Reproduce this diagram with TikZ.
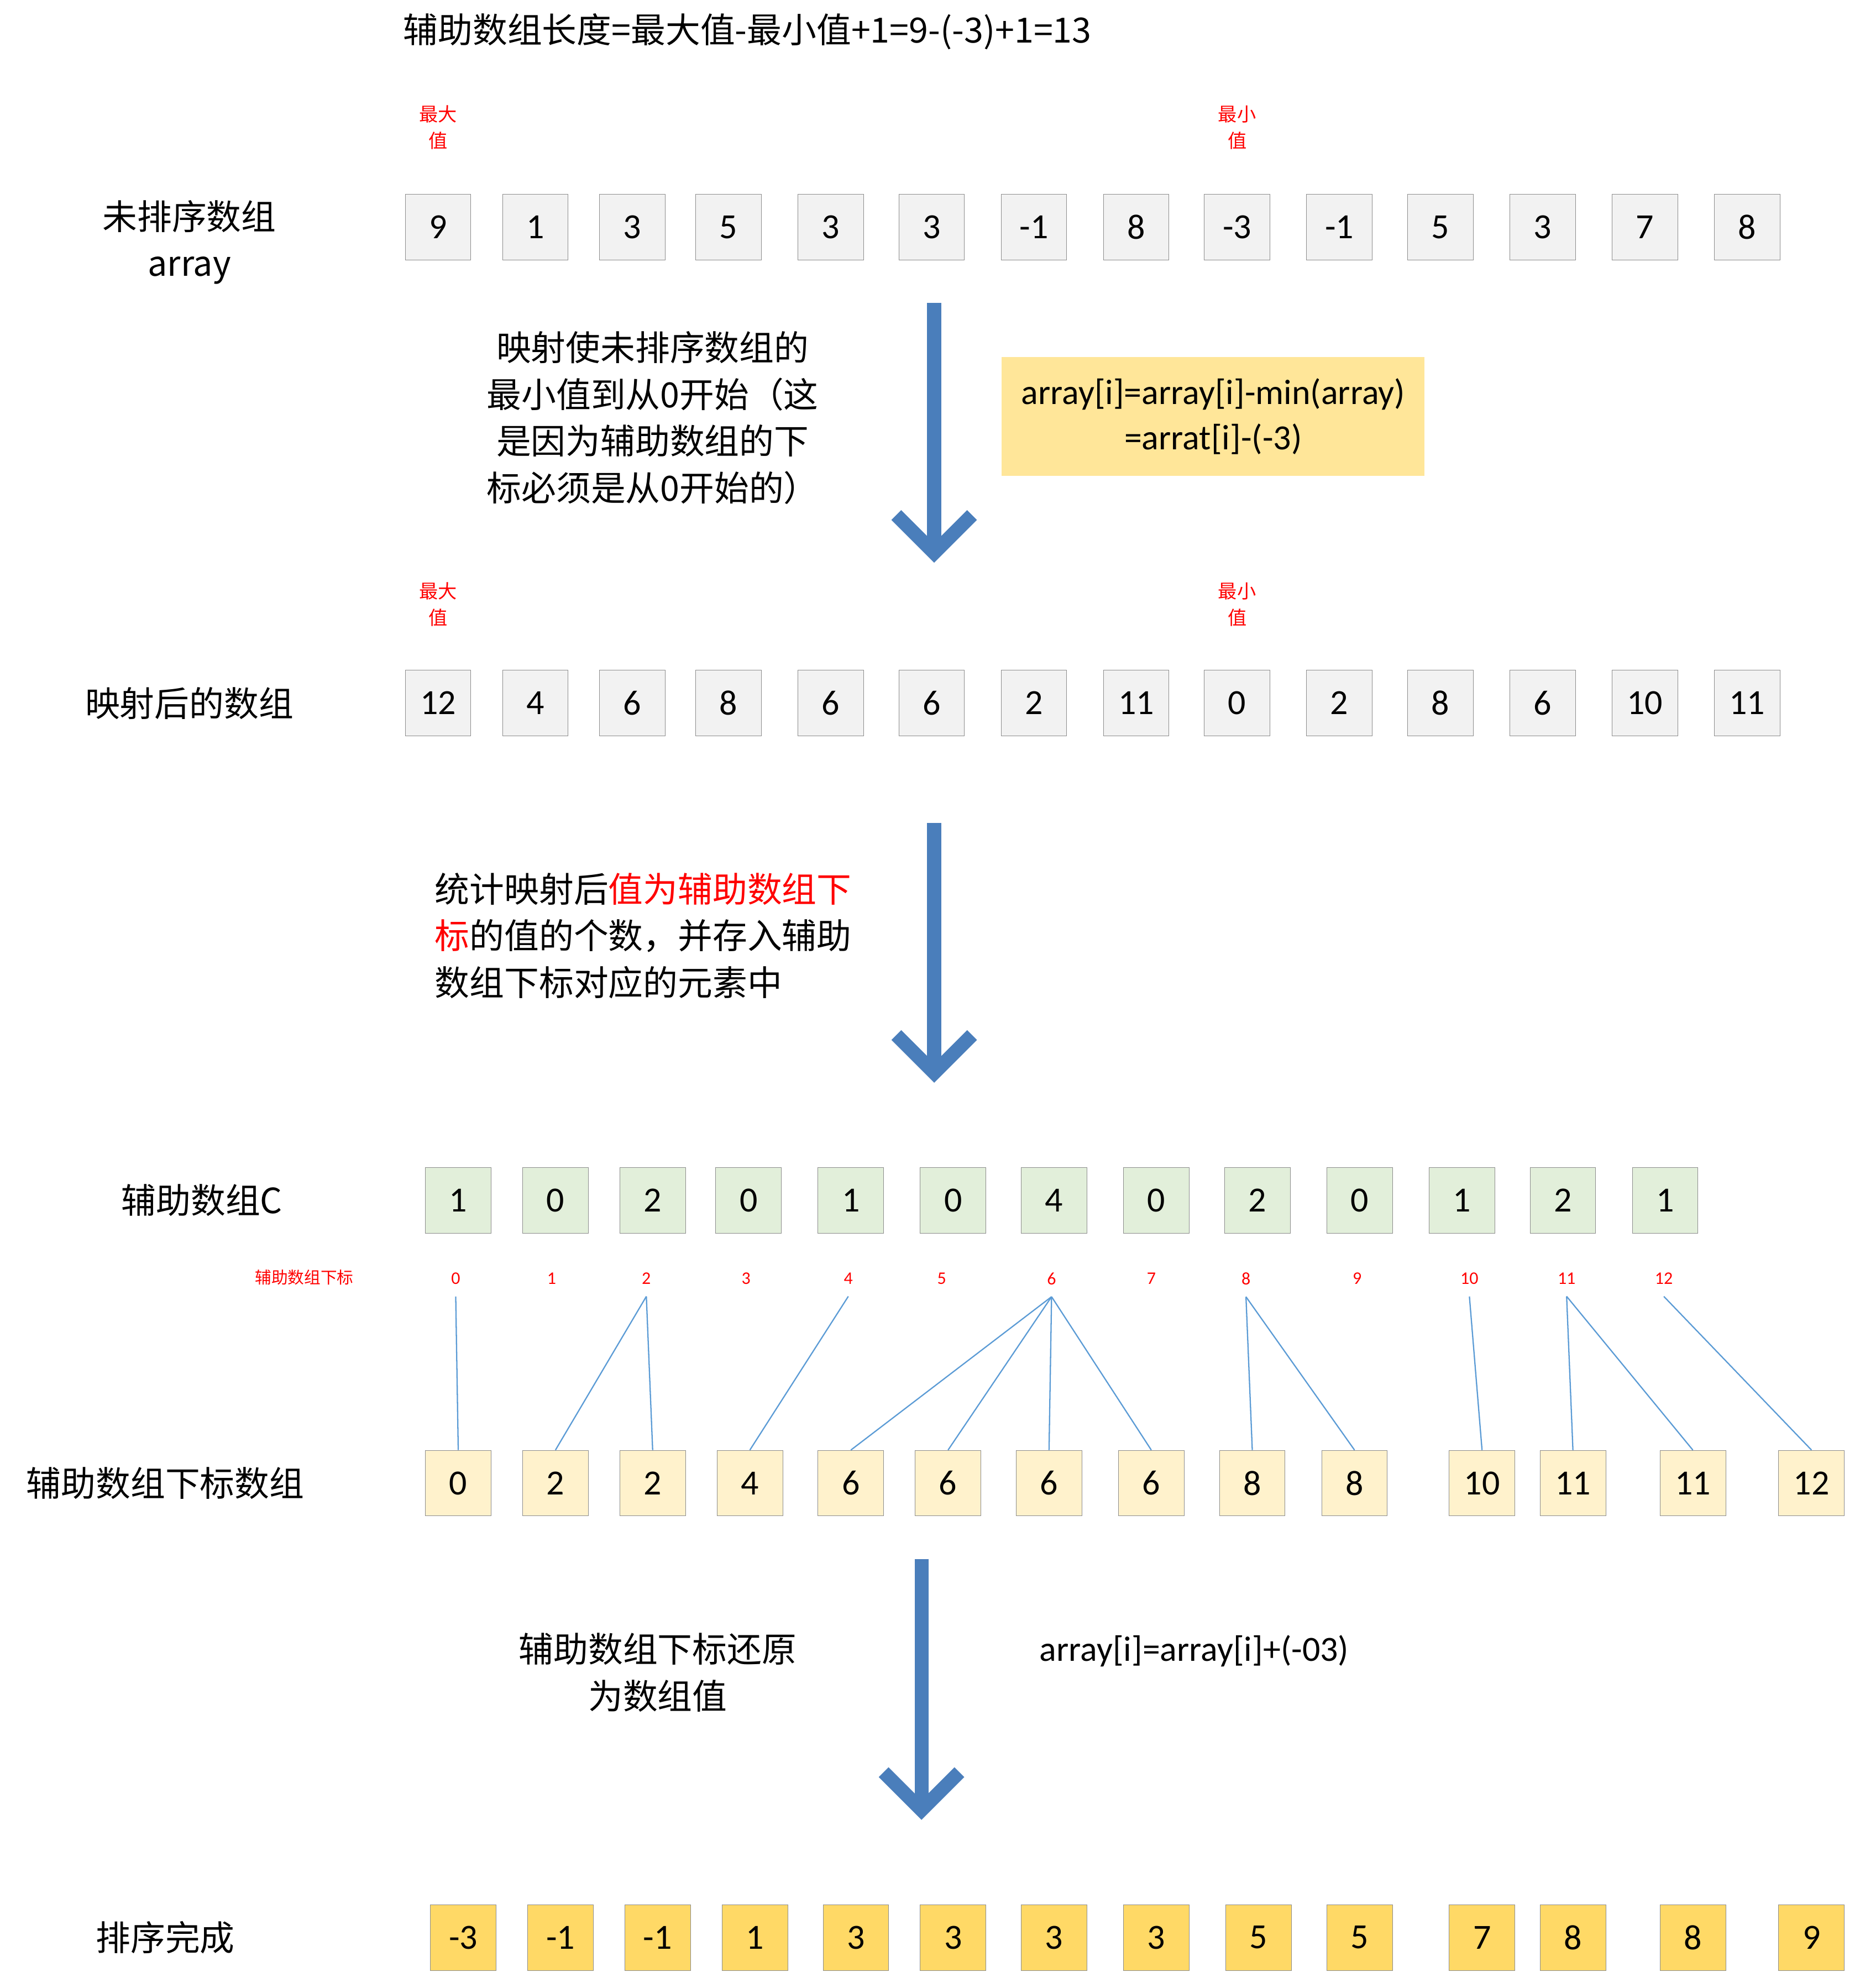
\documentclass[tikz,border=0pt]{standalone}
\usepackage{fontspec}
\setmainfont{Carlito}
\newfontfamily\cjk{Noto Sans CJK SC}
\usepackage{tikz}
\usetikzlibrary{positioning, calc}
\definecolor{boxgray}{HTML}{F2F2F2}
\definecolor{boxgreen}{HTML}{E2EFDA}
\definecolor{boxcream}{HTML}{FFF2CC}
\definecolor{boxgold}{HTML}{FFD966}
\definecolor{notebg}{HTML}{FFE699}
\definecolor{arrowblue}{HTML}{4A7EBB}
\definecolor{linkblue}{HTML}{5B9BD5}
\tikzset{
  cell/.style={draw=black!45, minimum size=52pt, inner sep=0pt, font=\fontsize{28}{32}\selectfont},
  lbl/.style={font=\cjk\fontsize{27.5}{37}\selectfont, align=center},
  tinyred/.style={font=\cjk\fontsize{15}{21}\selectfont, text=red, align=center},
  idx/.style={font=\fontsize{14}{15}\selectfont, text=red},
  link/.style={draw=linkblue, line width=1pt},
  bigarrow/.style={draw=arrowblue, line width=11pt}
}
\newcommand{\downarrowblock}[3]{% x, top, bottom
  \draw[bigarrow] (#1,#2) -- (#1,#3-8);
  \draw[bigarrow, line join=miter] (#1-30,#3-36) -- (#1,#3-6) -- (#1+30,#3-36);
}
\begin{document}
\begin{tikzpicture}[x=1pt, y=-1pt]
  \useasboundingbox (0,0) rectangle (1473,1575);

  % title
  \node[lbl, anchor=west] (title) at (316,25) {辅助数组长度=最大值-最小值+1=9-(-3)+1=13};

  % unsorted array
  \node[lbl] (rowA) at (150,192) {未排序数组\\array};
  \foreach \v [count=\i] in {9,1,3,5,3,3,-1,8,-3,-1,5,3,7,8} {
    \pgfmathsetmacro{\xx}{{0,347,424,501,577,658,738,819,900,980,1061,1141,1222,1303,1384}[\i]}
    \node[cell, fill=boxgray] (a\i) at (\xx,180) {\v};
  }
  \node[tinyred] (maxA) at (347,101) {最大\\值};
  \node[tinyred] (minA) at (980,101) {最小\\值};

  % step 1
  \downarrowblock{740}{240}{444}
  \node[lbl] (txtA) at (517,331) {映射使未排序数组的\\最小值到从0开始（这\\是因为辅助数组的下\\标必须是从0开始的）};
  \node[fill=notebg, minimum width=335pt, minimum height=94pt, font=\fontsize{28}{36}\selectfont, align=center]
    (note) at (961,330) {array[i]=array[i]-min(array)\\=arrat[i]-(-3)};

  % mapped array
  \node[lbl] (rowB) at (150,557) {映射后的数组};
  \foreach \v [count=\i] in {12,4,6,8,6,6,2,11,0,2,8,6,10,11} {
    \pgfmathsetmacro{\xx}{{0,347,424,501,577,658,738,819,900,980,1061,1141,1222,1303,1384}[\i]}
    \node[cell, fill=boxgray] (b\i) at (\xx,557) {\v};
  }
  \node[tinyred] (maxB) at (347,479) {最大\\值};
  \node[tinyred] (minB) at (980,479) {最小\\值};

  % step 2
  \downarrowblock{740}{652}{856}
  \node[lbl, anchor=north west, align=left] (txtB) at (341,688)
    {统计映射后\textcolor{red}{值为辅助数组下}\\\textcolor{red}{标}的值的个数，并存入辅助\\数组下标对应的元素中};

  % count array
  \node[lbl] (rowC) at (160,951) {辅助数组C};
  \foreach \v [count=\i] in {1,0,2,0,1,0,4,0,2,0,1,2,1} {
    \pgfmathsetmacro{\xx}{{0,363,440,517,593,674,755,835,916,996,1077,1158,1238,1319}[\i]}
    \node[cell, fill=boxgreen] (c\i) at (\xx,951) {\v};
  }
  \node[tinyred, font=\cjk\fontsize{13}{15}\selectfont] (idxlbl) at (241,1012) {辅助数组下标};
  \foreach \v [count=\i] in {0,...,12} {
    \pgfmathsetmacro{\xx}{{0,361,437,512,591,672,746,833,912,987,1075,1164,1241,1318}[\i]}
    \node[idx] (k\v) at (\xx,1013) {\v};
  }

  % index array
  \node[lbl] (rowD) at (131,1175) {辅助数组下标数组};
  \foreach \v [count=\i] in {0,2,2,4,6,6,6,6,8,8,10,11,11,12} {
    \pgfmathsetmacro{\xx}{{0,363,440,517,594,674,751,831,912,992,1073,1174,1246,1341,1435}[\i]}
    \node[cell, fill=boxcream] (d\i) at (\xx,1175) {\v};
  }
  \foreach \k/\d in {0/1,2/2,2/3,4/4,6/5,6/6,6/7,6/8,8/9,8/10,10/11,11/12,11/13,12/14}
    \draw[link] ($(k\k.south)+(0,6)$) -- (d\d.north);

  % step 3
  \downarrowblock{730}{1235}{1440}
  \node[lbl] (txtC) at (521,1325) {辅助数组下标还原\\为数组值};
  \node[font=\fontsize{28}{30}\selectfont] (restore) at (946,1308) {array[i]=array[i]+(-03)};

  % sorted array
  \node[lbl] (rowE) at (131,1535) {排序完成};
  \foreach \v [count=\i] in {-3,-1,-1,1,3,3,3,3,5,5,7,8,8,9} {
    \pgfmathsetmacro{\xx}{{0,367,444,521,598,678,755,835,916,997,1077,1174,1246,1341,1435}[\i]}
    \node[cell, fill=boxgold] (e\i) at (\xx,1535) {\v};
  }
\end{tikzpicture}
\end{document}
